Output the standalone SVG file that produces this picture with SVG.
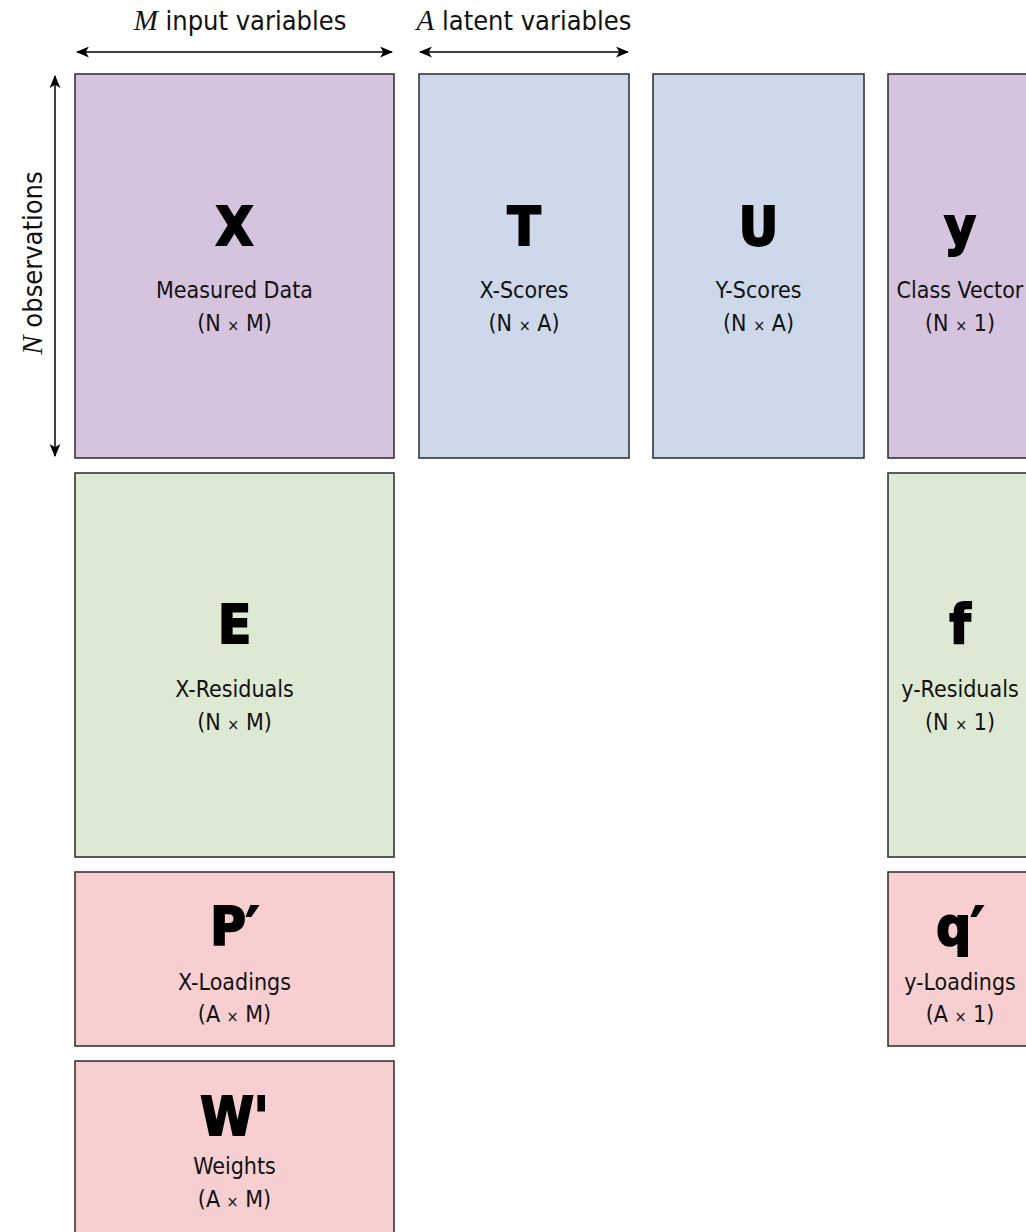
<svg xmlns="http://www.w3.org/2000/svg" width="1026" height="1232" viewBox="0 0 1026 1232">
<style>
.box{stroke:#2a2a2a;stroke-width:1.5}
.pur{fill:#d6c4df}.blu{fill:#cdd8ea}.grn{fill:#dee9d3}.pnk{fill:#f8cfd1}
.big{font-family:"DejaVu Sans Condensed","DejaVu Sans",sans-serif;font-weight:bold;font-size:54px;text-anchor:middle;fill:#000;stroke:#000;stroke-width:2}
.lab{font-family:"DejaVu Sans Condensed","Liberation Sans",sans-serif;font-size:23px;text-anchor:middle;fill:#111}
.x{font-size:16px}
.hdr{font-family:"DejaVu Sans Condensed","Liberation Sans",sans-serif;font-size:27px;text-anchor:middle;fill:#111}
.it{font-family:"Liberation Serif",serif;font-style:italic;font-size:29px}
.arr{stroke:#000;stroke-width:1.5;fill:none}
</style>
<defs>
<marker id="ah" viewBox="0 0 12 10" refX="11" refY="5" markerWidth="13" markerHeight="11" markerUnits="userSpaceOnUse" orient="auto-start-reverse">
<path d="M0,0 L12,5 L0,10 L3,5 Z" fill="#000"/>
</marker>
</defs>
<rect width="1026" height="1232" fill="#fff"/>
<g id="connectors">
<line class="arr" x1="77" y1="52" x2="392" y2="52" marker-start="url(#ah)" marker-end="url(#ah)"/>
<line class="arr" x1="420" y1="52" x2="628" y2="52" marker-start="url(#ah)" marker-end="url(#ah)"/>
<line class="arr" x1="55" y1="76" x2="55" y2="456" marker-start="url(#ah)" marker-end="url(#ah)"/>
</g>
<g id="labels">
<text class="hdr" x="240" y="30"><tspan class="it">M</tspan> input variables</text>
<text class="hdr" x="524" y="30"><tspan class="it">A</tspan> latent variables</text>
<text class="hdr" transform="translate(42,263) rotate(-90)"><tspan class="it">N</tspan> observations</text>
</g>
<g id="X">
<rect class="box pur" x="75" y="74" width="319" height="384"/>
<text class="big" x="234.5" y="245">X</text>
<text class="lab" x="234.5" y="298">Measured Data</text>
<text class="lab" x="234.5" y="331">(N <tspan class="x">×</tspan> M)</text>
</g>
<g id="T">
<rect class="box blu" x="419" y="74" width="210" height="384"/>
<text class="big" x="524" y="245">T</text>
<text class="lab" x="524" y="298">X-Scores</text>
<text class="lab" x="524" y="331">(N <tspan class="x">×</tspan> A)</text>
</g>
<g id="U">
<rect class="box blu" x="653" y="74" width="211" height="384"/>
<text class="big" x="758.5" y="245">U</text>
<text class="lab" x="758.5" y="298">Y-Scores</text>
<text class="lab" x="758.5" y="331">(N <tspan class="x">×</tspan> A)</text>
</g>
<g id="y">
<rect class="box pur" x="888" y="74" width="150" height="384"/>
<text class="big" x="960" y="245">y</text>
<text class="lab" x="960" y="298">Class Vector</text>
<text class="lab" x="960" y="331">(N <tspan class="x">×</tspan> 1)</text>
</g>
<g id="E">
<rect class="box grn" x="75" y="473" width="319" height="384"/>
<text class="big" x="234.5" y="643">E</text>
<text class="lab" x="234.5" y="697">X-Residuals</text>
<text class="lab" x="234.5" y="730">(N <tspan class="x">×</tspan> M)</text>
</g>
<g id="f">
<rect class="box grn" x="888" y="473" width="150" height="384"/>
<text class="big" x="960" y="643">f</text>
<text class="lab" x="960" y="697">y-Residuals</text>
<text class="lab" x="960" y="730">(N <tspan class="x">×</tspan> 1)</text>
</g>
<g id="P">
<rect class="box pnk" x="75" y="872" width="319" height="174"/>
<text class="big" x="234.5" y="945">P′</text>
<text class="lab" x="234.5" y="990">X-Loadings</text>
<text class="lab" x="234.5" y="1022">(A <tspan class="x">×</tspan> M)</text>
</g>
<g id="q">
<rect class="box pnk" x="888" y="872" width="150" height="174"/>
<text class="big" x="960" y="945">q′</text>
<text class="lab" x="960" y="990">y-Loadings</text>
<text class="lab" x="960" y="1022">(A <tspan class="x">×</tspan> 1)</text>
</g>
<g id="W">
<rect class="box pnk" x="75" y="1061" width="319" height="190"/>
<text class="big" x="234.5" y="1135">W'</text>
<text class="lab" x="234.5" y="1174">Weights</text>
<text class="lab" x="234.5" y="1207">(A <tspan class="x">×</tspan> M)</text>
</g>
</svg>
